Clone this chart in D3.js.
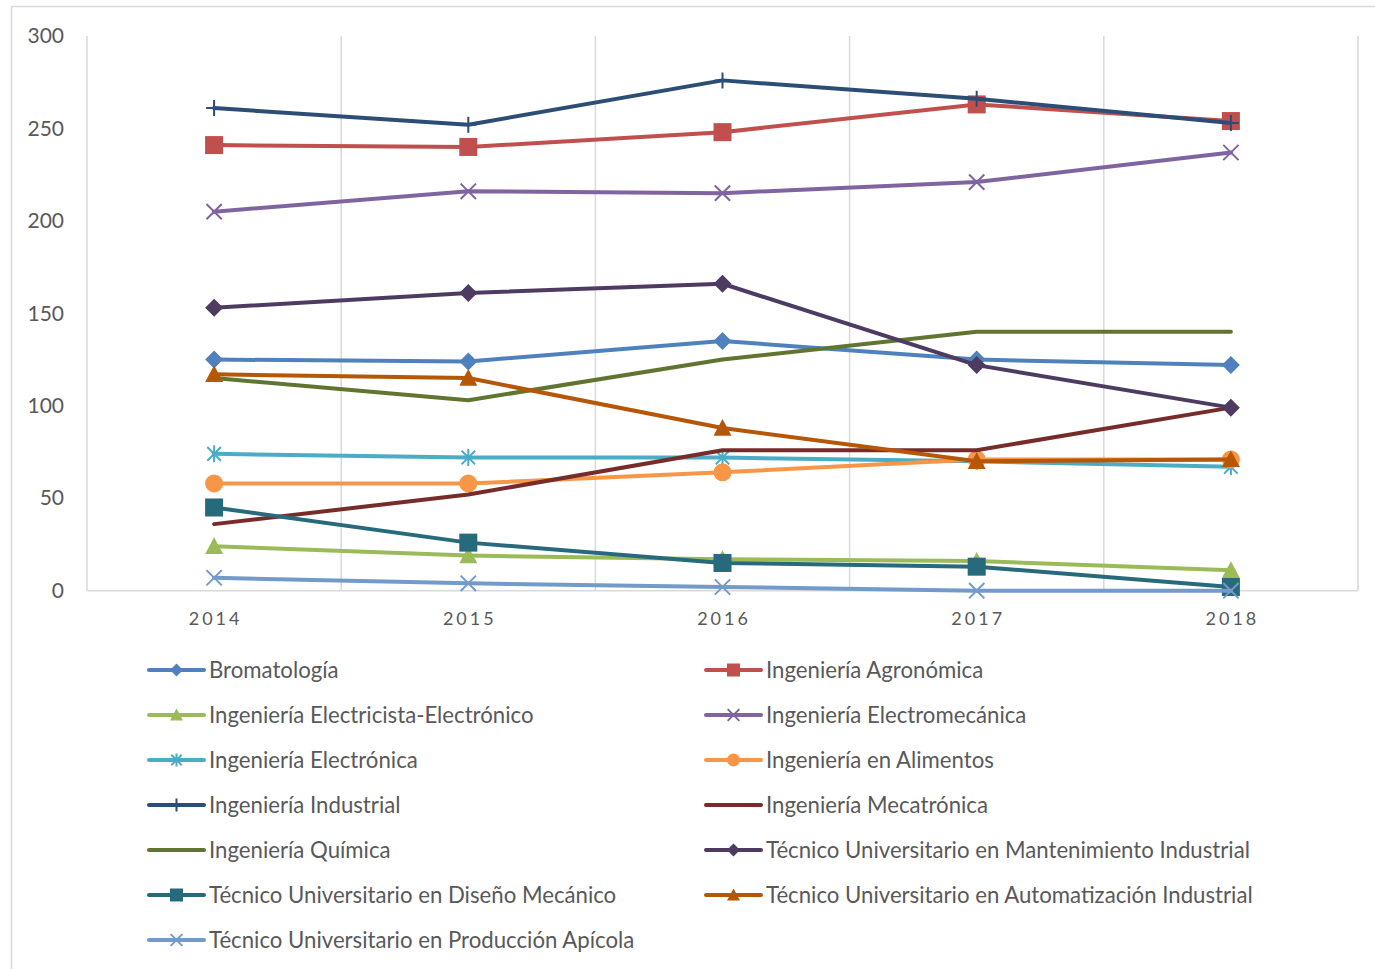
<!DOCTYPE html>
<html>
<head>
<meta charset="utf-8">
<script src="https://cdn.jsdelivr.net/npm/d3@7"></script>
<style>
  html, body { margin: 0; padding: 0; background: #fff; }
  svg { display: block; }
  text { font-family: Lato, "Open Sans", sans-serif; fill: #595959; }
</style>
</head>
<body>
<svg id="chart" width="1375" height="969"></svg>
<script>
const years = ["2014", "2015", "2016", "2017", "2018"];
const yTicks = [0, 50, 100, 150, 200, 250, 300];

const seriesNames = [
  "Bromatología",
  "Ingeniería Agronómica",
  "Ingeniería Electricista-Electrónico",
  "Ingeniería Electromecánica",
  "Ingeniería Electrónica",
  "Ingeniería en Alimentos",
  "Ingeniería Industrial",
  "Ingeniería Mecatrónica",
  "Ingeniería Química",
  "Técnico Universitario en Mantenimiento Industrial",
  "Técnico Universitario en Diseño Mecánico",
  "Técnico Universitario en Automatización Industrial",
  "Técnico Universitario en Producción Apícola"
];

const bromatologia     = [125, 124, 135, 125, 122];
const agronomica       = [241, 240, 248, 263, 254];
const electricista     = [24, 19, 17, 16, 11];
const electromecanica  = [205, 216, 215, 221, 237];
const electronica      = [74, 72, 72, 70, 67];
const alimentos        = [58, 58, 64, 71, 71];
const industrial       = [261, 252, 276, 266, 253];
const mecatronica      = [36, 52, 76, 76, 99];
const quimica          = [115, 103, 125, 140, 140];
const mantenimiento    = [153, 161, 166, 122, 99];
const disenoMecanico   = [45, 26, 15, 13, 2];
const automatizacion   = [117, 115, 88, 70, 71];
const apicola          = [7, 4, 2, 0, 0];

const seriesValues = [bromatologia, agronomica, electricista, electromecanica, electronica,
  alimentos, industrial, mecatronica, quimica, mantenimiento, disenoMecanico, automatizacion, apicola];

const seriesColors = ["#4F81BD", "#C0504D", "#9BBB59", "#8064A2", "#4BACC6", "#F79646",
  "#2C4D75", "#772C2A", "#5F7530", "#4D3B62", "#276A7C", "#B65708", "#729ACA"];

const seriesMarkers = ["diamond", "square", "triangle", "x", "asterisk", "circle",
  "plus", "none", "none", "diamond", "square", "triangle", "x"];

const svg = d3.select("#chart");

// outer chart border
svg.append("rect")
  .attr("x", 11.5).attr("y", 6.5).attr("width", 1400).attr("height", 1000)
  .attr("fill", "none").attr("stroke", "#D9D9D9").attr("stroke-width", 1.5);

const plot = { left: 87, right: 1358, top: 36, bottom: 590.7 };

const x = d3.scaleBand().domain(years).range([plot.left, plot.right]);
const y = d3.scaleLinear().domain([0, 300]).range([plot.bottom, plot.top]);
const cx = d => x(d) + x.bandwidth() / 2;

// vertical gridlines at category boundaries
const bounds = years.map(d => x(d)).concat([plot.right]);
svg.append("g").selectAll("line").data(bounds).join("line")
  .attr("x1", d => d).attr("x2", d => d)
  .attr("y1", plot.top).attr("y2", plot.bottom)
  .attr("stroke", "#D9D9D9").attr("stroke-width", 1.5);

// bottom axis line
svg.append("line")
  .attr("x1", plot.left).attr("x2", plot.right)
  .attr("y1", y(0)).attr("y2", y(0))
  .attr("stroke", "#D9D9D9").attr("stroke-width", 1.5);

// y axis labels
const yAxis = d3.axisLeft(y).tickValues(yTicks).tickSize(0).tickPadding(0);
const gy = svg.append("g").attr("transform", `translate(64,0)`).call(yAxis);
gy.select(".domain").remove();
gy.selectAll("text").attr("font-size", 21).attr("fill", "#595959")
  .style("font-family", "Lato, sans-serif");

// x axis labels
const xAxis = d3.axisBottom(x).tickSize(0).tickPadding(0);
const gx = svg.append("g").attr("transform", `translate(0,${plot.bottom})`).call(xAxis);
gx.select(".domain").remove();
gx.selectAll("text").attr("font-size", 18).attr("dy", 0).attr("y", 34)
  .attr("fill", "#595959").style("letter-spacing", "3px")
  .style("font-family", "Lato, sans-serif")
  .attr("dx", 1.5);

function drawMarker(g, type, color, px, py, s) {
  const h = s / 2;
  if (type === "diamond") {
    g.append("path").attr("d", `M${px},${py - h}L${px + h},${py}L${px},${py + h}L${px - h},${py}Z`).attr("fill", color);
  } else if (type === "square") {
    g.append("rect").attr("x", px - h).attr("y", py - h).attr("width", s).attr("height", s).attr("fill", color);
  } else if (type === "triangle") {
    g.append("path").attr("d", `M${px},${py - h}L${px + h},${py + h * 0.85}L${px - h},${py + h * 0.85}Z`).attr("fill", color);
  } else if (type === "circle") {
    g.append("circle").attr("cx", px).attr("cy", py).attr("r", h).attr("fill", color);
  } else if (type === "x") {
    const k = h * 0.9;
    g.append("path").attr("d", `M${px - k},${py - k}L${px + k},${py + k}M${px - k},${py + k}L${px + k},${py - k}`)
      .attr("stroke", color).attr("stroke-width", 2).attr("fill", "none");
  } else if (type === "asterisk") {
    const k = h * 0.8;
    g.append("path").attr("d", `M${px - k},${py - k}L${px + k},${py + k}M${px - k},${py + k}L${px + k},${py - k}M${px},${py - h}L${px},${py + h}`)
      .attr("stroke", color).attr("stroke-width", 2).attr("fill", "none");
  } else if (type === "plus") {
    g.append("path").attr("d", `M${px - h},${py}L${px + h},${py}M${px},${py - h}L${px},${py + h}`)
      .attr("stroke", color).attr("stroke-width", 2).attr("fill", "none");
  }
}

const line = d3.line().x((d, i) => cx(years[i])).y(d => y(d));

seriesNames.forEach((name, si) => {
  const g = svg.append("g");
  g.append("path").datum(seriesValues[si]).attr("d", line)
    .attr("fill", "none").attr("stroke", seriesColors[si]).attr("stroke-width", 4)
    .attr("stroke-linejoin", "round").attr("stroke-linecap", "round");
  seriesValues[si].forEach((v, i) => {
    const sz = seriesMarkers[si] === "plus" ? 16 : (seriesMarkers[si] === "x" || seriesMarkers[si] === "asterisk" ? 17 : 18);
    drawMarker(g, seriesMarkers[si], seriesColors[si], cx(years[i]), y(v), sz);
  });
});

// legend
const legendCols = [149, 706];
const legendTop = 670;
const legendGap = 45;
seriesNames.forEach((name, si) => {
  const col = si % 2, row = Math.floor(si / 2);
  const lx = legendCols[col], ly = legendTop + row * legendGap;
  const g = svg.append("g");
  g.append("line").attr("x1", lx).attr("x2", lx + 55).attr("y1", ly).attr("y2", ly)
    .attr("stroke", seriesColors[si]).attr("stroke-width", 4).attr("stroke-linecap", "round");
  drawMarker(g, seriesMarkers[si], seriesColors[si], lx + 27.5, ly, 13);
  g.append("text").attr("x", lx + 60).attr("y", ly).attr("dy", "0.35em")
    .attr("font-size", 22.2).attr("fill", "#595959").text(name);
});
</script>
</body>
</html>
